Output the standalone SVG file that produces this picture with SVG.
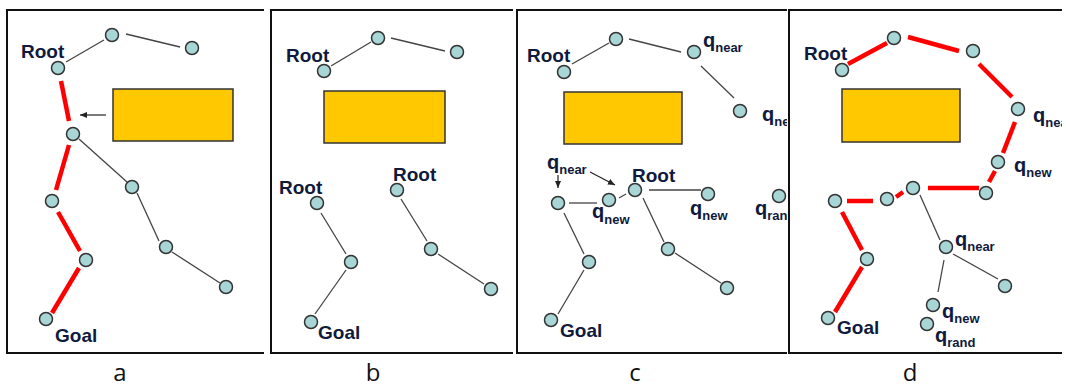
<svg xmlns="http://www.w3.org/2000/svg" width="1066" height="387" viewBox="0 0 1066 387">
<style>
.frame{fill:none;stroke:#111;stroke-width:2}
.n{fill:#a8d6d7;stroke:#333;stroke-width:1.5}
.g{stroke:#444;stroke-width:1.3;fill:none}
.r{stroke:#ff0000;stroke-width:4.5;fill:none}
.obs{fill:#ffc800;stroke:#333;stroke-width:1.5}
.lb{font-family:"Liberation Sans",Arial,sans-serif;font-weight:bold;font-size:19px;fill:#0f1a3c}
.q{font-family:"Liberation Sans",Arial,sans-serif;font-weight:bold;font-size:20px;fill:#0f1a3c}
.s{font-size:13px}
.cap{font-family:"Open Sans","Liberation Sans",sans-serif;font-size:24px;fill:#111}
.ar{stroke:#222;stroke-width:1.2;fill:none}
</style>
<defs>
<marker id="ah" markerWidth="8" markerHeight="8" refX="7" refY="4" orient="auto" markerUnits="userSpaceOnUse">
<path d="M0,1 L7,4 L0,7 Z" fill="#222"/>
</marker>
<clipPath id="clipC"><rect x="517" y="0" width="270" height="387"/></clipPath>
<clipPath id="clipD"><rect x="789" y="0" width="273" height="387"/></clipPath>
</defs>
<rect width="1066" height="387" fill="#fff"/>

<!-- Panel frames -->
<g id="frames">
<path class="frame" d="M264,10 H7 V353 H264"/>
<path class="frame" d="M513,10 H271 V353 H513"/>
<path class="frame" d="M787,10 H517 V353 H787"/>
<path class="frame" d="M1062,10 H789 V353 H1062"/>
</g>

<!-- Panel a -->
<g id="panel-a">
<rect id="a-obstacle" class="obs" x="113" y="89" width="120" height="52"/>
<g id="a-connectors">
<line class="g" x1="66" y1="62" x2="104" y2="40"/>
<line class="g" x1="126" y1="34" x2="180" y2="47"/>
<line class="r" x1="61" y1="81" x2="69" y2="121"/>
<line class="r" x1="69" y1="145" x2="56" y2="190"/>
<line class="r" x1="58" y1="212" x2="80" y2="251"/>
<line class="r" x1="79" y1="268" x2="52" y2="313"/>
<line class="g" x1="79" y1="139" x2="127" y2="182"/>
<line class="g" x1="137" y1="193" x2="159" y2="241"/>
<line class="g" x1="172" y1="252" x2="220" y2="283"/>
<line class="ar" x1="106" y1="115" x2="80" y2="115" marker-end="url(#ah)"/>
</g>
<g id="a-root"><circle class="n" cx="58" cy="68" r="6.5"/><text class="lb" x="21" y="58">Root</text></g>
<g id="a-n1"><circle class="n" cx="112" cy="35" r="6.5"/></g>
<g id="a-n2"><circle class="n" cx="192" cy="48" r="6.5"/></g>
<g id="a-n3"><circle class="n" cx="73" cy="134" r="6.5"/></g>
<g id="a-n4"><circle class="n" cx="132" cy="187" r="6.5"/></g>
<g id="a-n5"><circle class="n" cx="52" cy="201" r="6.5"/></g>
<g id="a-n6"><circle class="n" cx="86" cy="260" r="6.5"/></g>
<g id="a-n7"><circle class="n" cx="166" cy="247" r="6.5"/></g>
<g id="a-n8"><circle class="n" cx="226" cy="287" r="6.5"/></g>
<g id="a-goal"><circle class="n" cx="46" cy="319" r="6.5"/><text class="lb" x="55" y="342">Goal</text></g>
<text class="cap" x="120" y="381" text-anchor="middle">a</text>
</g>

<!-- Panel b -->
<g id="panel-b">
<rect id="b-obstacle" class="obs" x="324" y="91" width="121" height="52"/>
<g id="b-connectors">
<line class="g" x1="331" y1="66" x2="371" y2="42"/>
<line class="g" x1="391" y1="38" x2="445" y2="51"/>
<line class="g" x1="321" y1="213" x2="346" y2="254"/>
<line class="g" x1="346" y1="270" x2="315" y2="314"/>
<line class="g" x1="401" y1="199" x2="427" y2="241"/>
<line class="g" x1="438" y1="254" x2="484" y2="284"/>
</g>
<g id="b-root1"><circle class="n" cx="324" cy="71" r="6.5"/><text class="lb" x="286" y="62">Root</text></g>
<g id="b-n1"><circle class="n" cx="378" cy="38" r="6.5"/></g>
<g id="b-n2"><circle class="n" cx="457" cy="52" r="6.5"/></g>
<g id="b-root2"><circle class="n" cx="317" cy="203" r="6.5"/><text class="lb" x="279" y="194">Root</text></g>
<g id="b-n3"><circle class="n" cx="351" cy="262" r="6.5"/></g>
<g id="b-goal"><circle class="n" cx="311" cy="322" r="6.5"/><text class="lb" x="318" y="339">Goal</text></g>
<g id="b-root3"><circle class="n" cx="397" cy="190" r="6.5"/><text class="lb" x="393" y="181">Root</text></g>
<g id="b-n4"><circle class="n" cx="431" cy="249" r="6.5"/></g>
<g id="b-n5"><circle class="n" cx="491" cy="289" r="6.5"/></g>
<text class="cap" x="373" y="381" text-anchor="middle">b</text>
</g>

<!-- Panel c -->
<g id="panel-c" clip-path="url(#clipC)">
<rect id="c-obstacle" class="obs" x="564" y="92" width="118" height="52"/>
<g id="c-connectors">
<line class="g" x1="572" y1="64" x2="609" y2="43"/>
<line class="g" x1="629" y1="39" x2="681" y2="52"/>
<line class="g" x1="701" y1="66" x2="734" y2="98"/>
<line class="g" x1="569" y1="203" x2="597" y2="203"/>
<line class="g" x1="619" y1="198" x2="626" y2="194"/>
<line class="g" x1="649" y1="190" x2="701" y2="190"/>
<line class="g" x1="564" y1="213" x2="584" y2="254"/>
<line class="g" x1="584" y1="270" x2="558" y2="314"/>
<line class="g" x1="643" y1="198" x2="664" y2="242"/>
<line class="g" x1="675" y1="253" x2="721" y2="283"/>
<line class="ar" x1="558" y1="175" x2="558" y2="188" marker-end="url(#ah)"/>
<line class="ar" x1="590" y1="172" x2="615" y2="185" marker-end="url(#ah)"/>
</g>
<g id="c-root1"><circle class="n" cx="564" cy="72" r="6.5"/><text class="lb" x="527" y="62">Root</text></g>
<g id="c-n1"><circle class="n" cx="616" cy="39" r="6.5"/></g>
<g id="c-qnear1"><circle class="n" cx="694" cy="52" r="6.5"/><text class="q" x="703" y="47">q<tspan class="s" dy="5">near</tspan></text></g>
<g id="c-qnew1"><circle class="n" cx="740" cy="111" r="6.5"/><text class="q" x="762" y="121">q<tspan class="s" dy="5">new</tspan></text></g>
<g id="c-qnear2"><circle class="n" cx="558" cy="203" r="6.5"/><text class="q" x="547" y="169">q<tspan class="s" dy="5">near</tspan></text></g>
<g id="c-qnew2"><circle class="n" cx="609" cy="200" r="6.5"/><text class="q" x="592" y="218">q<tspan class="s" dy="6">new</tspan></text></g>
<g id="c-root2"><circle class="n" cx="635" cy="190" r="6.5"/><text class="lb" x="632" y="182">Root</text></g>
<g id="c-qnew3"><circle class="n" cx="708" cy="194" r="6.5"/><text class="q" x="690" y="215">q<tspan class="s" dy="5">new</tspan></text></g>
<g id="c-qrand"><circle class="n" cx="779" cy="196" r="6.5"/><text class="q" x="755" y="215">q<tspan class="s" dy="5">rand</tspan></text></g>
<g id="c-n2"><circle class="n" cx="589" cy="262" r="6.5"/></g>
<g id="c-goal"><circle class="n" cx="551" cy="320" r="6.5"/><text class="lb" x="560" y="337">Goal</text></g>
<g id="c-n3"><circle class="n" cx="668" cy="249" r="6.5"/></g>
<g id="c-n4"><circle class="n" cx="727" cy="288" r="6.5"/></g>
</g>
<text class="cap" x="635" y="381" text-anchor="middle">c</text>

<!-- Panel d -->
<g id="panel-d" clip-path="url(#clipD)">
<rect id="d-obstacle" class="obs" x="842" y="89" width="118" height="53"/>
<g id="d-connectors">
<line class="r" x1="848" y1="64" x2="887" y2="43"/>
<line class="r" x1="908" y1="37" x2="959" y2="51"/>
<line class="r" x1="979" y1="64" x2="1012" y2="97"/>
<line class="r" x1="1015" y1="122" x2="1003" y2="153"/>
<line class="r" x1="995" y1="171" x2="989" y2="182"/>
<line class="r" x1="979" y1="188" x2="928" y2="188"/>
<line class="r" x1="903" y1="192" x2="896" y2="197"/>
<line class="r" x1="873" y1="201" x2="847" y2="201"/>
<line class="r" x1="842" y1="212" x2="862" y2="250"/>
<line class="r" x1="862" y1="267" x2="835" y2="312"/>
<line class="g" x1="920" y1="195" x2="940" y2="240"/>
<line class="g" x1="953" y1="254" x2="998" y2="279"/>
<line class="g" x1="944" y1="260" x2="938" y2="292"/>
</g>
<g id="d-root"><circle class="n" cx="842" cy="70" r="6.5"/><text class="lb" x="804" y="60">Root</text></g>
<g id="d-n1"><circle class="n" cx="894" cy="38" r="6.5"/></g>
<g id="d-n2"><circle class="n" cx="973" cy="51" r="6.5"/></g>
<g id="d-n3"><circle class="n" cx="1018" cy="109" r="6.5"/><text class="q" x="1033" y="122">q<tspan class="s" dy="5">near</tspan></text></g>
<g id="d-n4"><circle class="n" cx="998" cy="162" r="6.5"/><text class="q" x="1014" y="172">q<tspan class="s" dy="5">new</tspan></text></g>
<g id="d-n5"><circle class="n" cx="986" cy="193" r="6.5"/></g>
<g id="d-n6"><circle class="n" cx="913" cy="188" r="6.5"/></g>
<g id="d-n7"><circle class="n" cx="887" cy="199" r="6.5"/></g>
<g id="d-n8"><circle class="n" cx="835" cy="201" r="6.5"/></g>
<g id="d-n9"><circle class="n" cx="867" cy="259" r="6.5"/></g>
<g id="d-goal"><circle class="n" cx="828" cy="318" r="6.5"/><text class="lb" x="837" y="334">Goal</text></g>
<g id="d-qnear"><circle class="n" cx="946" cy="247" r="6.5"/><text class="q" x="955" y="246">q<tspan class="s" dy="5">near</tspan></text></g>
<g id="d-n10"><circle class="n" cx="1005" cy="286" r="6.5"/></g>
<g id="d-qnew"><circle class="n" cx="933" cy="305" r="6.5"/><text class="q" x="942" y="318">q<tspan class="s" dy="5">new</tspan></text></g>
<g id="d-qrand"><circle class="n" cx="927" cy="324" r="6.5"/><text class="q" x="935" y="342">q<tspan class="s" dy="5">rand</tspan></text></g>
</g>
<text class="cap" x="910" y="381" text-anchor="middle">d</text>
</svg>
